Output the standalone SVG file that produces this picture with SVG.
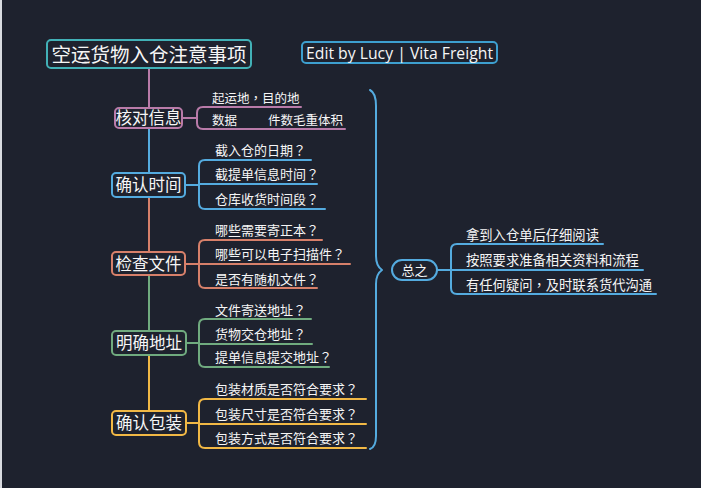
<svg xmlns="http://www.w3.org/2000/svg" width="701" height="488" viewBox="0 0 701 488">
<style>
.bg{fill:#1e222e}
.t{font-family:"Noto Sans CJK SC","Noto Sans",sans-serif;fill:#f6f6f6}
.p{font-family:"Noto Sans CJK TC","Noto Sans CJK SC",sans-serif}
.main{font-size:16.5px}
.sub{font-size:13px}
.ln{fill:none;stroke-width:2;stroke-linecap:round;stroke-linejoin:round}
.box{fill:#1e222e;stroke-width:2}
.pink{stroke:#b97ba9}
.blue{stroke:#54abdf}
.orange{stroke:#d7806a}
.green{stroke:#70ab7f}
.yellow{stroke:#f1b845}
</style>
<rect class="bg" x="0" y="0" width="701" height="488"/>
<rect x="0" y="0" width="2" height="488" fill="#d9dbe0"/>

<g id="connectors">
  <path class="ln pink" d="M149,68 V108"/>
  <path class="ln blue" d="M149,128 V173"/>
  <path class="ln orange" d="M149,197 V252"/>
  <path class="ln green" d="M149,275 V331"/>
  <path class="ln yellow" d="M149,355 V411"/>
  <path class="ln pink" d="M182,118 H197 M301,107 H203 Q197,107 197,113 V123 Q197,129 203,129 H345"/>
  <path class="ln blue" d="M185,185 H199 M311,160 H205 Q199,160 199,166 V203 Q199,209 205,209 H325 M199,184 H317"/>
  <path class="ln orange" d="M185,264 H199 M322,240 H205 Q199,240 199,246 V282 Q199,288 205,288 H317 M199,264 H350"/>
  <path class="ln green" d="M186,343 H199 M311,319 H205 Q199,319 199,325 V361 Q199,367 205,367 H329 M199,344 H312"/>
  <path class="ln yellow" d="M186,423 H199 M366,399 H205 Q199,399 199,405 V442 Q199,448 205,448 H366 M199,424 H366"/>
  <path class="ln blue" d="M370,90 Q376,93 376,106 V256 Q376,266 382,270 Q376,274 376,284 V436 Q376,447 370,449"/>
  <path class="ln blue" d="M437,270 H451 M603,244 H457 Q451,244 451,250 V288 Q451,294 457,294 H656 M451,270 H643"/>
</g>

<g id="title">
  <rect class="box" x="47" y="40" width="204" height="28" rx="4" style="stroke:#42b1b7"/>
  <text class="t" x="149" y="61.5" font-size="19.5" text-anchor="middle">空运货物入仓注意事项</text>
</g>
<g id="edit">
  <rect class="box" x="302" y="42" width="195" height="21" rx="4" style="stroke:#3d9fcf"/>
  <text x="306" y="58.5" font-family="'Open Sans','Noto Sans',sans-serif" font-size="15.5" fill="#f6f6f6" textLength="187" lengthAdjust="spacingAndGlyphs">Edit by Lucy | Vita Freight</text>
</g>

<g id="n1">
  <rect class="box pink" x="115" y="108" width="67" height="20" rx="4"/>
  <text class="t main" x="148.5" y="124" text-anchor="middle" font-size="16">核对信息</text>
</g>
<g id="n1c">
  <text class="t" font-size="12.5" x="212" y="103">起运地<tspan class="p">，</tspan>目的地</text>
  <text class="t" font-size="12.5" x="212" y="125"><tspan x="212">数据</tspan><tspan x="268">件数毛重体积</tspan></text>
</g>

<g id="n2">
  <rect class="box blue" x="112" y="173" width="73" height="24" rx="4"/>
  <text class="t main" x="148.5" y="191" text-anchor="middle">确认时间</text>
</g>
<g id="n2c">
  <text class="t sub" x="215" y="155">截入仓的日期<tspan class="p">？</tspan></text>
  <text class="t sub" x="215" y="179">截提单信息时间<tspan class="p">？</tspan></text>
  <text class="t sub" x="215" y="204">仓库收货时间段<tspan class="p">？</tspan></text>
</g>

<g id="n3">
  <rect class="box orange" x="112" y="252" width="73" height="23" rx="4"/>
  <text class="t main" x="148.5" y="269.5" text-anchor="middle">检查文件</text>
</g>
<g id="n3c">
  <text class="t sub" x="215" y="235">哪些需要寄正本<tspan class="p">？</tspan></text>
  <text class="t sub" x="215" y="259">哪些可以电子扫描件<tspan class="p">？</tspan></text>
  <text class="t sub" x="215" y="284">是否有随机文件<tspan class="p">？</tspan></text>
</g>

<g id="n4">
  <rect class="box green" x="112" y="331" width="74" height="24" rx="4"/>
  <text class="t main" x="149" y="349" text-anchor="middle">明确地址</text>
</g>
<g id="n4c">
  <text class="t sub" x="215" y="315">文件寄送地址<tspan class="p">？</tspan></text>
  <text class="t sub" x="215" y="339">货物交仓地址<tspan class="p">？</tspan></text>
  <text class="t sub" x="215" y="362">提单信息提交地址<tspan class="p">？</tspan></text>
</g>

<g id="n5">
  <rect class="box yellow" x="112" y="411" width="74" height="24" rx="4"/>
  <text class="t main" x="149" y="429" text-anchor="middle">确认包装</text>
</g>
<g id="n5c">
  <text class="t sub" x="215" y="394">包装材质是否符合要求<tspan class="p">？</tspan></text>
  <text class="t sub" x="215" y="419">包装尺寸是否符合要求<tspan class="p">？</tspan></text>
  <text class="t sub" x="215" y="443">包装方式是否符合要求<tspan class="p">？</tspan></text>
</g>

<g id="summary">
  <rect class="box blue" x="392" y="260" width="45" height="20" rx="10"/>
  <text class="t" font-size="13" x="414.5" y="275" text-anchor="middle">总之</text>
</g>
<g id="summaryc">
  <text class="t" font-size="13.3" x="466" y="240">拿到入仓单后仔细阅读</text>
  <text class="t" font-size="13.3" x="466" y="265">按照要求准备相关资料和流程</text>
  <text class="t" font-size="13.3" x="466" y="290">有任何疑问<tspan class="p">，</tspan>及时联系货代沟通</text>
</g>
</svg>
